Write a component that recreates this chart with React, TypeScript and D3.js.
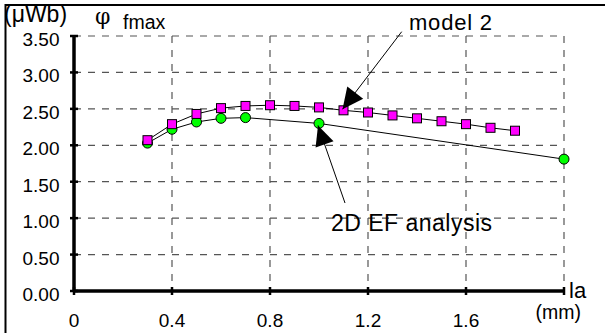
import React from "react";
import * as d3 from "d3";

const W = 605;
const H = 333;

const model2X = [0.3, 0.4, 0.5, 0.6, 0.7, 0.8, 0.9, 1.0, 1.1, 1.2, 1.3, 1.4, 1.5, 1.6, 1.7, 1.8];
const model2Y = [2.07, 2.29, 2.43, 2.51, 2.54, 2.55, 2.54, 2.52, 2.48, 2.45, 2.41, 2.37, 2.33, 2.29, 2.24, 2.2];

const efX = [0.3, 0.4, 0.5, 0.6, 0.7, 1.0, 2.0];
const efY = [2.03, 2.22, 2.32, 2.37, 2.38, 2.3, 1.81];

const xTicks = [0, 0.4, 0.8, 1.2, 1.6, 2.0];
const xTickLabels = ["0", "0.4", "0.8", "1.2", "1.6", ""];
const yTicks = [0, 0.5, 1.0, 1.5, 2.0, 2.5, 3.0, 3.5];
const yTickLabels = ["0.00", "0.50", "1.00", "1.50", "2.00", "2.50", "3.00", "3.50"];

const FONT = "'Liberation Sans', Arial, Helvetica, sans-serif";

function arrowHead(tailX: number, tailY: number, tipX: number, tipY: number, len: number, half: number) {
  const dx = tipX - tailX;
  const dy = tipY - tailY;
  const L = Math.sqrt(dx * dx + dy * dy);
  const ux = dx / L;
  const uy = dy / L;
  const bx = tipX - ux * len;
  const by = tipY - uy * len;
  const px = -uy;
  const py = ux;
  return `${tipX},${tipY} ${bx + px * half},${by + py * half} ${bx - px * half},${by - py * half}`;
}

export default function App() {
  const x = d3.scaleLinear().domain([0, 2]).range([74, 564]);
  const y = d3.scaleLinear().domain([0, 3.5]).range([291, 36]);

  const line = d3
    .line<[number, number]>()
    .x((d) => x(d[0]))
    .y((d) => y(d[1]));

  const m2 = model2X.map((v, i) => [v, model2Y[i]] as [number, number]);
  const ef = efX.map((v, i) => [v, efY[i]] as [number, number]);

  const m2TipX = x(1.1) - 1;
  const m2TipY = y(2.48) - 1;
  const m2TailX = 401.7;
  const m2TailY = 31.7;
  const efTipX = x(1.0) - 1;
  const efTipY = y(2.3) + 2;
  const efTailX = 345;
  const efTailY = 203;

  return (
    <svg width={W} height={H} style={{ display: "block", position: "absolute", left: 0, top: 0 }}>
      <rect x={0} y={0} width={W} height={H} fill="#fff" />
      <path d={`M5.5,${H + 5} L5.5,5 L${W + 5},5`} fill="none" stroke="#000" strokeWidth={2} />

      {yTicks.slice(1).map((t) => (
        <line key={"gy" + t} x1={x(0)} x2={x(2)} y1={y(t)} y2={y(t)} stroke="#555" strokeWidth={1.2} strokeDasharray="7,7" />
      ))}
      {xTicks.slice(1).map((t) => (
        <line key={"gx" + t} x1={x(t)} x2={x(t)} y1={y(3.5)} y2={y(0)} stroke="#555" strokeWidth={1.2} strokeDasharray="7,7" />
      ))}

      <line x1={x(0)} x2={x(0)} y1={y(3.5)} y2={y(0)} stroke="#000" strokeWidth={3.5} />
      <line x1={x(0)} x2={x(2)} y1={y(0)} y2={y(0)} stroke="#000" strokeWidth={3.5} />
      {yTicks.map((t) => (
        <line key={"ty" + t} x1={x(0) - 4} x2={x(0) + 4} y1={y(t)} y2={y(t)} stroke="#000" strokeWidth={2.5} />
      ))}
      {xTicks.map((t) => (
        <line key={"tx" + t} x1={x(t)} x2={x(t)} y1={y(0) - 4} y2={y(0) + 4} stroke="#000" strokeWidth={2.5} />
      ))}

      {yTicks.map((t, i) => (
        <text key={"ly" + t} x={59.5} y={y(t) + 10} textAnchor="end" fontFamily={FONT} fontSize={19} fill="#000">
          {yTickLabels[i]}
        </text>
      ))}
      {xTicks.map((t, i) => (
        <text key={"lx" + t} x={x(t)} y={327} textAnchor="middle" fontFamily={FONT} fontSize={19} fill="#000">
          {xTickLabels[i]}
        </text>
      ))}

      <text x={4} y={22} fontFamily={FONT} fontSize={23} fill="#000">(μWb)</text>
      <text x={95} y={24} fontFamily="'DejaVu Serif', 'Liberation Serif', serif" fontSize={22} fill="#000">φ</text>
      <text x={123} y={28.5} fontFamily={FONT} fontSize={19.5} fill="#000">fmax</text>
      <text x={569} y={297.5} fontFamily={FONT} fontSize={22} fill="#000">la</text>
      <text x={535.5} y={319} fontFamily={FONT} fontSize={19.5} fill="#000">(mm)</text>

      <path d={line(ef) || ""} fill="none" stroke="#000" strokeWidth={1} />
      {ef.map((d, i) => (
        <circle key={"c" + i} cx={x(d[0])} cy={y(d[1])} r={5} fill="#00ff00" stroke="#000" strokeWidth={1} />
      ))}
      <path d={line(m2) || ""} fill="none" stroke="#000" strokeWidth={1} />
      {m2.map((d, i) => (
        <rect key={"s" + i} x={x(d[0]) - 4.5} y={y(d[1]) - 4.5} width={9} height={9} fill="#ff00ff" stroke="#000" strokeWidth={1} />
      ))}

      <line x1={m2TailX} y1={m2TailY} x2={m2TipX} y2={m2TipY} stroke="#000" strokeWidth={1} />
      <polygon points={arrowHead(m2TailX, m2TailY, m2TipX, m2TipY, 21, 10)} fill="#000" />
      <text x={409} y={30} fontFamily={FONT} fontSize={22} fill="#000" textLength={83}>model 2</text>

      <line x1={efTailX} y1={efTailY} x2={efTipX} y2={efTipY} stroke="#000" strokeWidth={1} />
      <polygon points={arrowHead(efTailX, efTailY, efTipX, efTipY, 20, 9.5)} fill="#000" />
      <text x={331} y={231} fontFamily={FONT} fontSize={23} fill="#000" textLength={161}>2D EF analysis</text>
    </svg>
  );
}
